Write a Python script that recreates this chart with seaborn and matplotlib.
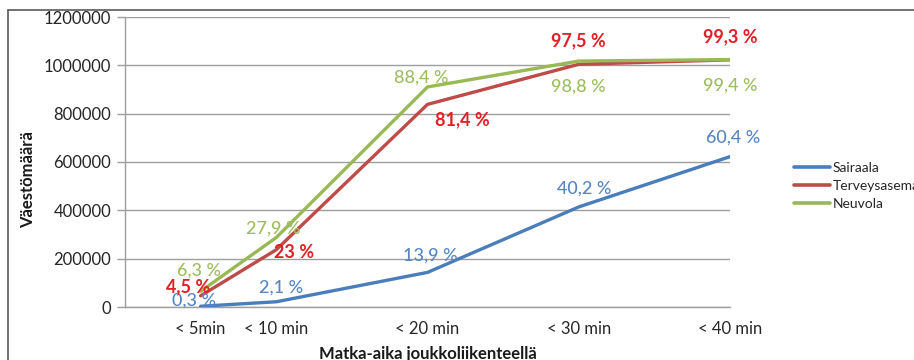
import matplotlib
matplotlib.use("Agg")
import matplotlib.pyplot as plt
from matplotlib.lines import Line2D
import numpy as np
import pandas as pd
import seaborn as sns

# Travel time thresholds (minutes) and their tick labels
minutes = [5, 10, 20, 30, 40]
tick_labels = ["< 5min", "< 10 min", "< 20 min", "< 30 min", "< 40 min"]

# Share of the population reached within each threshold (%)
sairaala_pct = [0.3, 2.1, 13.9, 40.2, 60.4]
terveysasema_pct = [4.5, 23.0, 81.4, 97.5, 99.3]
neuvola_pct = [6.3, 27.9, 88.4, 98.8, 99.4]

# Total population the shares refer to
total_population = 1030000

series_names = ["Sairaala", "Terveysasema", "Neuvola"]
series_pct = [sairaala_pct, terveysasema_pct, neuvola_pct]

line_colors = {"Sairaala": "#4A7EBB", "Terveysasema": "#BE4B48", "Neuvola": "#98B954"}
label_colors = {"Sairaala": "#5686C3", "Terveysasema": "#E21F26", "Neuvola": "#9DBE5E"}
label_weights = {"Sairaala": "medium", "Terveysasema": "bold", "Neuvola": "medium"}

# Pixel offsets of each data label from its point
label_offsets = {
    "Sairaala": [(-7, 6), (5, 14), (3, 17), (5, 18), (3, 19)],
    "Terveysasema": [(-12, 9), (18, -3), (35, -15), (0, 24), (0, 23)],
    "Neuvola": [(-2, 21), (-3, 9), (-6, 9), (0, -26), (0, -26)],
}

rows = []
for name, pcts in zip(series_names, series_pct):
    for m, p in zip(minutes, pcts):
        rows.append({"Matka-aika": m, "Väestö": p / 100 * total_population,
                     "Palvelu": name, "pct": p})
df = pd.DataFrame(rows)

sns.set_theme(style="white")
plt.rcParams["font.family"] = ["Lato", "DejaVu Sans"]

fig = plt.figure(figsize=(9.14, 3.6), dpi=100)
W, H = 914, 360
ax = fig.add_axes([125 / W, 1 - 307 / H, (730 - 125) / W, (307 - 17) / H])

sns.lineplot(data=df, x="Matka-aika", y="Väestö", hue="Palvelu",
             hue_order=series_names, palette=line_colors, linewidth=2.4,
             ax=ax, legend=True, zorder=3)

ax.set_xlim(0, 40)
ax.set_ylim(0, 1200000)
ax.set_yticks(np.arange(0, 1200001, 200000))
ax.set_yticklabels([f"{int(v)}" for v in np.arange(0, 1200001, 200000)])
ax.set_xticks(minutes)
ax.set_xticklabels(tick_labels)
ax.set_xticks([10, 20, 30, 40], minor=True)

ax.grid(False)
ax.yaxis.grid(True, color="#9E9E9E", linewidth=1.0, zorder=0)
ax.xaxis.grid(True, which="minor", color="#D4D4D4", linewidth=1.0, zorder=0)
ax.set_axisbelow(True)

for side in ["top", "right"]:
    ax.spines[side].set_visible(False)
ax.spines["left"].set_color("#9E9E9E")
ax.spines["bottom"].set_color("#9E9E9E")
ax.spines["left"].set_linewidth(1.0)
ax.spines["bottom"].set_linewidth(1.0)

ax.tick_params(axis="y", which="major", length=6, width=1.0, color="#9E9E9E",
               labelsize=12, labelcolor="#262626", pad=4, left=True)
ax.tick_params(axis="x", which="both", length=0, labelsize=12,
               labelcolor="#262626", pad=10)
ax.set_xlabel("")
ax.set_ylabel("")

# Data labels with the percentage shares
for name, pcts in zip(series_names, series_pct):
    for m, p, (dx, dy) in zip(minutes, pcts, label_offsets[name]):
        txt = f"{p:g} %".replace(".", ",")
        ax.annotate(txt, xy=(m, p / 100 * total_population),
                    xytext=(dx, dy), textcoords="offset pixels",
                    ha="center", va="center", fontsize=13,
                    color=label_colors[name], fontweight=label_weights[name],
                    zorder=4, annotation_clip=False)

# Legend to the right of the plot area
leg = ax.legend(loc="upper left", bbox_to_anchor=(788 / W, 1 - 156 / H),
                bbox_transform=fig.transFigure, frameon=False, fontsize=10,
                handlelength=2.6, handletextpad=0.2, labelspacing=0.45,
                borderaxespad=0)
for h in leg.get_lines():
    h.set_linewidth(2.6)

fig.text(28 / W, 1 - 180 / H, "Väestömäärä", rotation=90, ha="center",
         va="center", fontsize=12, fontweight="bold", color="#1A1A1A")
fig.text(428 / W, 1 - 346 / H, "Matka-aika joukkoliikenteellä", ha="center",
         va="top", fontsize=12, fontweight="bold", color="#1A1A1A")

# Chart frame edges
fig.add_artist(Line2D([8 / W, 1], [1 - 10 / H, 1 - 10 / H], transform=fig.transFigure,
                      color="#5A5A5A", linewidth=1.2))
fig.add_artist(Line2D([8 / W, 8 / W], [0, 1 - 10 / H], transform=fig.transFigure,
                      color="#5A5A5A", linewidth=1.2))

fig.savefig("out.png", dpi=100)
